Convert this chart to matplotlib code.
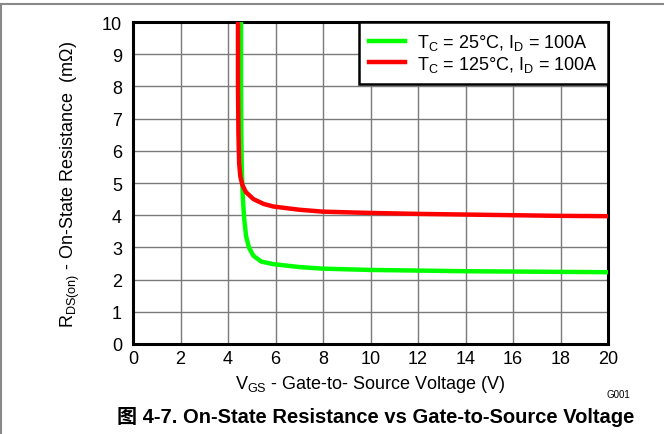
import matplotlib
matplotlib.use('Agg')
import matplotlib.pyplot as plt
from matplotlib.lines import Line2D

plt.rcParams['font.family'] = ['Liberation Sans', 'Noto Sans CJK SC', 'DejaVu Sans']
plt.rcParams['mathtext.default'] = 'regular'

# Дані
vgs_25 = [4.55, 4.55, 4.56, 4.58, 4.62, 4.68, 4.76, 4.88, 5.07, 5.4, 5.91, 7.0, 8.0, 10.0, 12.08, 14.0, 16.0, 18.0, 20.0]
rds_25 = [10.0, 8.0, 6.5, 5.5, 4.6, 3.9, 3.35, 3.0, 2.74, 2.56, 2.48, 2.39, 2.34, 2.3, 2.28, 2.26, 2.25, 2.24, 2.23]

vgs_125 = [4.42, 4.42, 4.44, 4.47, 4.52, 4.6, 4.75, 5.07, 5.5, 5.91, 7.0, 8.0, 10.0, 12.08, 14.0, 16.0, 18.0, 20.0]
rds_125 = [10.0, 8.0, 6.5, 5.6, 5.2, 4.95, 4.72, 4.5, 4.35, 4.27, 4.17, 4.11, 4.07, 4.04, 4.02, 4.0, 3.98, 3.97]

x_ticks = [0, 2, 4, 6, 8, 10, 12, 14, 16, 18, 20]
y_ticks = [0, 1, 2, 3, 4, 5, 6, 7, 8, 9, 10]

fig = plt.figure(figsize=(6.64, 4.35), dpi=100)
ax = fig.add_axes([0.2003, 0.2069, 0.7154, 0.7402])

ax.plot(vgs_25, rds_25, color='#00ff00', lw=3.2, label='T$_C$ = 25°C, I$_D$ = 100A', zorder=3)
ax.plot(vgs_125, rds_125, color='#ff0000', lw=3.2, label='T$_C$ = 125°C, I$_D$ = 100A', zorder=4)

ax.set_xlim(0, 20)
ax.set_ylim(0, 10)
ax.set_xticks(x_ticks)
ax.set_yticks(y_ticks)
ax.tick_params(labelsize=13, length=0)
ax.tick_params(axis='y', pad=8)
ax.tick_params(axis='x', pad=4)
ax.grid(True, color='#7a7a7a', lw=1)
for s in ax.spines.values():
    s.set_linewidth(2.2)
    s.set_color('black')

ax.set_xlabel('V$_{GS}$ - Gate-to- Source Voltage (V)', fontsize=13, labelpad=5)
ax.set_ylabel('R$_{DS(on)}$ - On-State Resistance  (m\u03a9)', fontsize=13, labelpad=14)

leg = ax.legend(loc='upper right', bbox_to_anchor=(1.0, 1.0), borderaxespad=0,
                fancybox=False, edgecolor='black', framealpha=1, fontsize=13,
                handlelength=2.0, handletextpad=0.7, labelspacing=0.1, borderpad=0.55)
leg.get_frame().set_linewidth(1.8)

fig.text(0.913, 0.086, 'G001', fontsize=7)
fig.text(0.566, 0.028, '图 4-7. On-State Resistance vs Gate-to-Source Voltage',
         fontsize=14.5, fontweight='bold', ha='center')

# Рамка сторінки
fig.add_artist(Line2D([0, 1], [0.988, 0.988], color='#888888', lw=1.5, transform=fig.transFigure))
fig.add_artist(Line2D([0.002, 0.002], [0, 0.988], color='#888888', lw=1.5, transform=fig.transFigure))

fig.savefig('out.png', dpi=100)
